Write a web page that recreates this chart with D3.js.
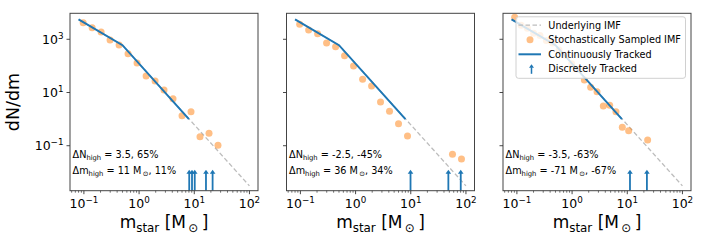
<html>
<script src="https://d3js.org/d3.v7.min.js"></script>
<body style="margin:0; background:white">
<div id="div1"></div>

<script>

//Svg Dimensions
var svg_width= 706
var svg_height= 247

// underlying (Kroupa-like) IMF, broken power law
var imf_mass= [0.08, 0.5, 100]
var imf_dndm= [5560, 600, 0.0031]

// continuously tracked part of the IMF (below 8 Msun)
var cont_mass= [0.08, 0.5, 8]
var cont_dndm= [5560, 600, 1.0]

// stochastically sampled IMF, one pair of arrays per panel (empty bins left out)
var mass_1= [0.097, 0.141, 0.205, 0.298, 0.434, 0.631, 0.918, 1.34, 1.95, 2.83, 4.12, 6.0, 8.73, 12.7, 18.5, 26.9]
var dndm_1= [4210, 2730, 1880, 940, 610, 287, 128, 41.7, 27, 12.4, 5.85, 1.34, 1.9, 0.218, 0.292, 0.1035]

var mass_2= [0.097, 0.141, 0.205, 0.298, 0.434, 0.631, 0.918, 1.34, 1.95, 2.83, 4.12, 6.0, 8.73, 57.0, 83.0]
var dndm_2= [3660, 2230, 1620, 725, 526, 241, 99, 31.3, 17.5, 4.39, 1.96, 0.67, 0.231, 0.0475, 0.0316]

var mass_3= [0.091, 0.119, 0.155, 0.201, 0.262, 0.342, 0.445, 0.580, 0.755, 0.983, 1.28, 1.67, 2.17, 2.83, 3.68, 4.80, 6.24, 8.13, 10.6, 23.4]
var dndm_3= [6710, 3400, 2600, 1700, 1400, 900, 720, 400, 250, 120, 75, 29.5, 15.7, 10.7, 3.1, 3.3, 1.9, 0.49, 0.366, 0.164]

// discretely tracked stars (arrows), masses in Msun
var arrows_1= [8.1, 9.1, 10.2, 16.3, 21.5]
var arrows_2= [9.9, 48, 80.5]
var arrows_3= [11.2, 22.7]
var arrow_top= 0.0125

// annotation texts
var dN_text= ["3.5, 65%", "-2.5, -45%", "-3.5, -63%"]
var dm_text= ["11", "36", "-71"]
var dm_pct= ["11%", "34%", "-67%"]

var x_ticks= [0.1, 1, 10, 100]
var x_tick_exp= ["\u22121", "0", "1", "2"]
var y_ticks= [0.1, 10, 1000]
var y_tick_exp= ["\u22121", "1", "3"]

var legend_labels= ["Underlying IMF", "Stochastically Sampled IMF", "Continuously Tracked", "Discretely Tracked"]

var blue= "#1f77b4"
var orange= "#ff7f0e"
var font= "DejaVu Sans"

var panel_left= [70, 286.5, 503]
var panel_width= 188
var panel_top= 13.3
var panel_bottom= 190.7

var svg= d3.select("#div1").append("svg")
.attr("width", svg_width)
.attr("height", svg_height)
.style("font-family", font)

var y= d3.scaleLog()
.domain([Math.pow(10, -2.69), Math.pow(10, 3.977)])
.range([panel_bottom, panel_top])

// text with sub/superscripts, parts= [[text, "n"|"sub"|"sup"], ...]
var rich_text= function(g, x, ypos, size, anchor, parts) {
  var t= g.append("text")
  .attr("x", x)
  .attr("y", ypos)
  .attr("font-size", size)
  .attr("text-anchor", anchor)
  .style("white-space", "pre")
  var shift= 0
  parts.forEach(function(p) {
    var target= p[1] == "sub" ? size * 0.22 : (p[1] == "sup" ? -size * 0.42 : 0)
    t.append("tspan")
    .text(p[0])
    .attr("dy", target - shift)
    .attr("font-size", p[1] == "n" ? size : size * 0.7)
    shift= target
  })
  return t
}

var panel_data= [
  {mass: mass_1, dndm: dndm_1, arrows: arrows_1},
  {mass: mass_2, dndm: dndm_2, arrows: arrows_2},
  {mass: mass_3, dndm: dndm_3, arrows: arrows_3}
]

panel_data.forEach(function(d, i) {
  var left= panel_left[i]
  var x= d3.scaleLog()
  .domain([Math.pow(10, -1.252), Math.pow(10, 2.155)])
  .range([left, left + panel_width])

  var g= svg.append("g")

  g.append("clipPath")
  .attr("id", "clip" + i)
  .append("rect")
  .attr("x", left)
  .attr("y", panel_top)
  .attr("width", panel_width)
  .attr("height", panel_bottom - panel_top)

  var inner= g.append("g").attr("clip-path", "url(#clip" + i + ")")

  var line= d3.line()
  .x(function(p) { return x(p[0]) })
  .y(function(p) { return y(p[1]) })

  // underlying IMF
  inner.append("path")
  .attr("d", line(d3.zip(imf_mass, imf_dndm)))
  .style("fill", "none")
  .style("stroke", "#bdbdbd")
  .style("stroke-width", 1.3)
  .style("stroke-dasharray", "4.5,2.5")

  // sampled points
  inner.selectAll("circle.pt")
  .data(d3.zip(d.mass, d.dndm))
  .enter().append("circle")
  .attr("cx", function(p) { return x(p[0]) })
  .attr("cy", function(p) { return y(p[1]) })
  .attr("r", 3.5)
  .style("fill", orange)
  .style("fill-opacity", 0.5)

  // continuous part
  inner.append("path")
  .attr("d", line(d3.zip(cont_mass, cont_dndm)))
  .style("fill", "none")
  .style("stroke", blue)
  .style("stroke-width", 2)

  // discrete stars
  d.arrows.forEach(function(m) {
    var ax= x(m)
    var tip= y(arrow_top)
    inner.append("line")
    .attr("x1", ax).attr("x2", ax)
    .attr("y1", panel_bottom).attr("y2", tip + 3)
    .style("stroke", blue)
    .style("stroke-width", 1.8)
    inner.append("polygon")
    .attr("points", (ax - 2.8) + "," + (tip + 4) + " " + ax + "," + tip + " " + (ax + 2.8) + "," + (tip + 4))
    .style("fill", blue)
  })

  // frame
  g.append("rect")
  .attr("x", left)
  .attr("y", panel_top)
  .attr("width", panel_width)
  .attr("height", panel_bottom - panel_top)
  .style("fill", "none")
  .style("stroke", "#444")
  .style("stroke-width", 1)

  // x ticks: major + minor
  var minor= []
  for (var e= -2; e <= 2; e++) {
    for (var k= 2; k <= 9; k++) {
      var v= k * Math.pow(10, e)
      if (x(v) >= left && x(v) <= left + panel_width) minor.push(v)
    }
  }
  g.selectAll("line.minor")
  .data(minor)
  .enter().append("line")
  .attr("x1", function(v) { return x(v) })
  .attr("x2", function(v) { return x(v) })
  .attr("y1", panel_bottom)
  .attr("y2", panel_bottom + 2)
  .style("stroke", "#333")
  .style("stroke-width", 0.7)

  x_ticks.forEach(function(v, j) {
    g.append("line")
    .attr("x1", x(v)).attr("x2", x(v))
    .attr("y1", panel_bottom).attr("y2", panel_bottom + 3.5)
    .style("stroke", "#333")
    .style("stroke-width", 0.9)
    rich_text(g, x(v), 208, 12.5, "middle", [["10", "n"], [x_tick_exp[j], "sup"]])
  })

  // y ticks (labels only on first panel)
  y_ticks.forEach(function(v, j) {
    g.append("line")
    .attr("x1", left - 3.5).attr("x2", left)
    .attr("y1", y(v)).attr("y2", y(v))
    .style("stroke", "#333")
    .style("stroke-width", 0.9)
    if (i == 0) {
      rich_text(g, left - 6.5, y(v) + 4.5, 12.5, "end", [["10", "n"], [y_tick_exp[j], "sup"]])
    }
  })

  // x label
  rich_text(g, left + panel_width / 2, 228, 17, "middle",
    [["m", "n"], ["star", "sub"], [" [M", "n"], ["\u2009\u2299", "sub"], ["\u2009]", "n"]])

  // annotations
  rich_text(g, left + 2.5, 158, 9.7, "start",
    [["\u0394N", "n"], ["high", "sub"], [" = " + dN_text[i], "n"]])
  rich_text(g, left + 2.5, 174, 9.7, "start",
    [["\u0394m", "n"], ["high", "sub"], [" = " + dm_text[i] + " M", "n"], ["\u2009\u2299", "sub"], [", " + dm_pct[i], "n"]])
})

// y label
svg.append("text")
.attr("transform", "translate(19, " + ((panel_top + panel_bottom) / 2) + ") rotate(-90)")
.attr("text-anchor", "middle")
.attr("font-size", 17.5)
.text("dN/dm")

// legend in the last panel
var lg= svg.append("g").attr("transform", "translate(516, 16.8)")

lg.append("rect")
.attr("width", 169.5)
.attr("height", 61.5)
.attr("rx", 2.5)
.style("fill", "white")
.style("fill-opacity", 0.8)
.style("stroke", "#d0d0d0")
.style("stroke-width", 1)

var row_y= [8.3, 23, 37.5, 52]

lg.append("line")
.attr("x1", 2.5).attr("x2", 25)
.attr("y1", row_y[0]).attr("y2", row_y[0])
.style("stroke", "#bdbdbd")
.style("stroke-width", 1.3)
.style("stroke-dasharray", "4.5,2.5")

lg.append("circle")
.attr("cx", 14).attr("cy", row_y[1])
.attr("r", 3.5)
.style("fill", orange)
.style("fill-opacity", 0.5)

lg.append("line")
.attr("x1", 2.5).attr("x2", 25)
.attr("y1", row_y[2]).attr("y2", row_y[2])
.style("stroke", blue)
.style("stroke-width", 2)

lg.append("line")
.attr("x1", 15.5).attr("x2", 15.5)
.attr("y1", row_y[3] + 5).attr("y2", row_y[3] - 1.5)
.style("stroke", blue)
.style("stroke-width", 1.5)

lg.append("polygon")
.attr("points", "13," + (row_y[3] - 1) + " 15.5," + (row_y[3] - 4.5) + " 18," + (row_y[3] - 1))
.style("fill", blue)

lg.selectAll("text.lab")
.data(legend_labels)
.enter().append("text")
.attr("x", 32.3)
.attr("y", function(t, j) { return row_y[j] + 3.5 })
.attr("font-size", 9.7)
.text(function(t) { return t })

</script>
</body>
</html>
